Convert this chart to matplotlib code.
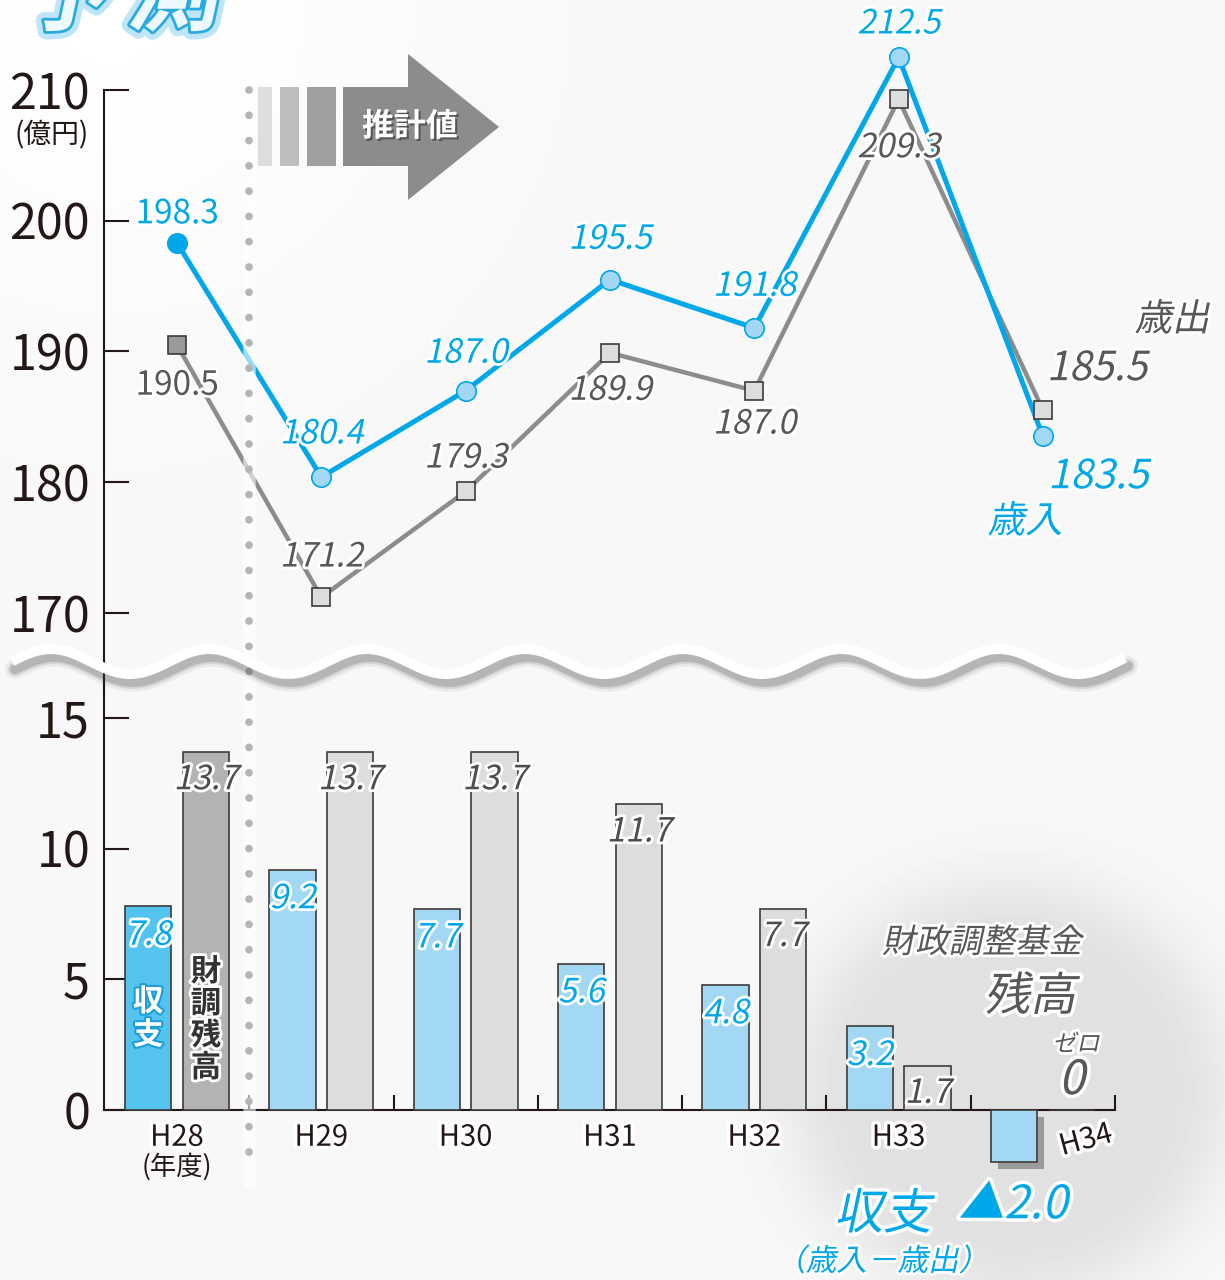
import numpy as np
import matplotlib
matplotlib.use('Agg')
import matplotlib.pyplot as plt
import matplotlib.patheffects as pe
from matplotlib.transforms import Affine2D, blended_transform_factory
from matplotlib.patches import Polygon, Rectangle

plt.rcParams['font.family'] = ['Noto Sans CJK JP', 'DejaVu Sans']

# data
years = ['H28', 'H29', 'H30', 'H31', 'H32', 'H33', 'H34']
revenue = [198.3, 180.4, 187.0, 195.5, 191.8, 212.5, 183.5]      # 歳入
expenditure = [190.5, 171.2, 179.3, 189.9, 187.0, 209.3, 185.5]  # 歳出
balance = [7.8, 9.2, 7.7, 5.6, 4.8, 3.2, -2.0]                  # 収支
fund = [13.7, 13.7, 13.7, 11.7, 7.7, 1.7, 0.0]                  # 財調残高
top_ticks = [170, 180, 190, 200, 210]
bottom_ticks = [0, 5, 10, 15]

# label offsets in points (dx, dy)
rev_offsets = [(0, 21), (0, 31), (0, 27), (0, 29), (0, 30), (0, 24), (40, -29)]
exp_offsets = [(0, -29), (0, 29), (0, 24), (0, -27), (0, -24), (0, -35), (39, 30)]

BLUE = '#00A7E9'
LBLUE = '#A3D8F5'
DBLUE_BAR = '#55C3F0'
GRAY_LINE = '#8C8C8C'
LGRAY = '#DCDDDD'
EDGE = '#3E3A39'
INK = '#231815'
TXT_GRAY = '#595757'

W, H = 1225, 1280


class SlantStroke(pe.Stroke):
    # stroke/fill that shears the glyph path to fake italics
    def __init__(self, deg=12, **kw):
        super().__init__(**kw)
        self.deg = deg

    def draw_path(self, renderer, gc, tpath, affine, rgbFace=None):
        super().draw_path(renderer, gc, tpath,
                          Affine2D().skew_deg(self.deg, 0) + affine, rgbFace)


def slant(lw=0, fg='white', deg=12):
    eff = []
    if lw:
        eff.append(SlantStroke(deg, linewidth=lw, foreground=fg))
    eff.append(SlantStroke(deg))
    return eff


def outline(lw=4, fg='white'):
    return [pe.withStroke(linewidth=lw, foreground=fg)]


fig = plt.figure(figsize=(W / 100, H / 100), dpi=100)
fig.patch.set_facecolor('#F7F7F7')

# background shading
bg = fig.add_axes([0, 0, 1, 1], zorder=-10)
yy, xx = np.mgrid[0:H, 0:W]
img = np.full((H, W), 0.969)
glow = np.exp(-((xx - 110) ** 2 + (yy - 10) ** 2) / (2 * 230 ** 2))
img = img + (1 - img) * glow * 0.9
d = np.sqrt(((xx - 1010) / 215) ** 2 + ((yy - 1090) / 205) ** 2)
disk = 1 / (1 + np.exp((d - 1) / 0.09))
img = img * (1 - disk) + 0.88 * disk
bg.imshow(img, cmap='gray', vmin=0, vmax=1, extent=(0, W, H, 0),
          aspect='auto', interpolation='bilinear')
bg.set_xlim(0, W)
bg.set_ylim(H, 0)
bg.axis('off')

xl = (-0.5058, 7.261)
x = np.arange(len(years))

# ---- top: line chart ----
ax1 = fig.add_axes([104 / W, 1 - 690 / H, 1 - 104 / W, 690 / H], zorder=1)
ax1.patch.set_visible(False)
ax1.set_xlim(*xl)
ax1.set_ylim(164.111, 216.883)
ax1.plot(x, expenditure, color=GRAY_LINE, lw=3.2, zorder=2)
ax1.plot(x, revenue, color=BLUE, lw=3.6, zorder=3)
ax1.plot(x[1:], expenditure[1:], ls='none', marker='s', ms=13, mfc=LGRAY,
         mec=EDGE, mew=1.2, zorder=4)
ax1.plot(x[:1], expenditure[:1], ls='none', marker='s', ms=13, mfc='#9A9A9A',
         mec=EDGE, mew=1.2, zorder=4)
ax1.plot(x[1:], revenue[1:], ls='none', marker='o', ms=14, mfc=LBLUE,
         mec=BLUE, mew=1.2, zorder=5)
ax1.plot(x[:1], revenue[:1], ls='none', marker='o', ms=14, mfc=BLUE,
         mec=BLUE, mew=1.2, zorder=5)

for i, v in enumerate(revenue):
    big = i == len(revenue) - 1
    ax1.annotate(f'{v:.1f}', (i, v), xytext=rev_offsets[i], textcoords='offset points',
                 ha='center', va='center', color=BLUE, fontsize=29 if big else 24,
                 path_effects=outline(4) if i == 0 else slant(4), zorder=6)
for i, v in enumerate(expenditure):
    big = i == len(expenditure) - 1
    ax1.annotate(f'{v:.1f}', (i, v), xytext=exp_offsets[i], textcoords='offset points',
                 ha='center', va='center', color=TXT_GRAY, fontsize=29 if big else 24,
                 path_effects=outline(4) if i == 0 else slant(4), zorder=6)

for s in ['top', 'right', 'bottom']:
    ax1.spines[s].set_visible(False)
ax1.spines['left'].set_bounds(164.111, 210)
ax1.spines['left'].set_color(INK)
ax1.spines['left'].set_linewidth(1.5)
ax1.set_xticks([])
ax1.set_yticks(top_ticks)
ax1.tick_params(axis='y', direction='in', length=18, width=1.5, pad=10,
                labelsize=35, colors=INK)

# ---- bottom: bar chart ----
ax2 = fig.add_axes([104 / W, 0, 1 - 104 / W, 620 / H], zorder=1)
ax2.patch.set_visible(False)
ax2.set_xlim(*xl)
ax2.set_ylim(-6.505, 17.219)
bal_colors = [DBLUE_BAR] + [LBLUE] * (len(balance) - 1)
fund_colors = ['#B3B3B3'] + [LGRAY] * (len(fund) - 1)
bars_b = ax2.bar(x - 0.2, balance, width=0.32, color=bal_colors, edgecolor=EDGE,
                 lw=1.2, zorder=3)
ax2.bar(x + 0.2, fund, width=0.32, color=fund_colors, edgecolor=EDGE, lw=1.2, zorder=3)
bars_b[-1].set_path_effects([pe.SimplePatchShadow(offset=(5, -5), shadow_rgbFace='#333333',
                                                  alpha=0.4), pe.Normal()])

for i, v in enumerate(balance):
    if v > 0:
        ax2.annotate(f'{v:.1f}', (i - 0.2, v), xytext=(0, -21), textcoords='offset points',
                     ha='center', va='center', color=BLUE, fontsize=24,
                     path_effects=slant(4), zorder=6)
for i, v in enumerate(fund):
    if v > 0:
        ax2.annotate(f'{v:.1f}', (i + 0.2, v), xytext=(0, -20), textcoords='offset points',
                     ha='center', va='center', color='#4D4D4D', fontsize=24,
                     path_effects=slant(4), zorder=6)

# H34 fund is zero
ax2.annotate('0', (6.2, fund[-1]), xytext=(0, 21), textcoords='offset points',
             ha='center', va='center', color='#595757', fontsize=34,
             path_effects=slant(5), zorder=6)
ax2.annotate('ゼロ', (6.2, fund[-1]), xytext=(3, 47), textcoords='offset points',
             ha='center', va='center', color='#595757', fontsize=17,
             path_effects=slant(4), zorder=6)

# vertical labels inside first bars
ax2.text(-0.2, 3.5, '収\n支', ha='center', va='center', fontsize=22, fontweight='bold',
         color='white', linespacing=1.05,
         path_effects=[pe.withStroke(linewidth=3, foreground='#1E9ED8')], zorder=6)
ax2.text(0.2, 3.45, '財\n調\n残\n高', ha='center', va='center', fontsize=22,
         fontweight='bold', color='#333333', linespacing=1.0,
         path_effects=outline(4), zorder=6)

for i, lab in enumerate(years[:-1]):
    ax2.annotate(lab, (i, 0), xytext=(0, -20), textcoords='offset points',
                 ha='center', va='center', fontsize=21, color=INK,
                 path_effects=outline(5), zorder=6)
ax2.annotate(years[-1], (6, 0), xytext=(31, -22), textcoords='offset points',
             ha='center', va='center', fontsize=21, color=INK, rotation=15,
             path_effects=outline(5), zorder=6)
ax2.annotate('(年度)', (0, 0), xytext=(0, -41), textcoords='offset points',
             ha='center', va='center', fontsize=19, color=INK, zorder=6)

for s in ['top', 'right']:
    ax2.spines[s].set_visible(False)
ax2.spines['left'].set_bounds(0, 17.219)
ax2.spines['bottom'].set_position(('data', 0))
ax2.spines['bottom'].set_bounds(xl[0], 6.5)
for s in ['left', 'bottom']:
    ax2.spines[s].set_color(INK)
    ax2.spines[s].set_linewidth(1.5)
ax2.set_yticks(bottom_ticks)
ax2.tick_params(axis='y', direction='in', length=18, width=1.5, pad=10,
                labelsize=35, colors=INK)
ax2.set_xticks(np.arange(0.5, len(years), 1.0))
ax2.tick_params(axis='x', direction='in', length=11, width=1.5, labelbottom=False,
                colors=INK)

# ---- overlay decorations (pixel coords) ----
ov = fig.add_axes([0, 0, 1, 1], zorder=5)
ov.patch.set_visible(False)
ov.set_xlim(0, W)
ov.set_ylim(H, 0)
ov.axis('off')

# dotted divider between actual and estimate
blend = blended_transform_factory(ax2.transData, ov.transData)
ov.plot([0.5, 0.5], [82, 1182], transform=blend, color='white', lw=9, alpha=0.6,
        solid_capstyle='round')
ov.plot([0.5, 0.5], [90, 1175], transform=blend, color='#B5B5B5', lw=5.6,
        ls=(0, (0.001, 3.25)), dash_capstyle='round')

# wave break
wx = np.linspace(12, 1125, 600)
wy = 661.5 - 12.5 * np.cos(2 * np.pi * (wx - 51) / 158)
for lw, a in [(14, 0.07), (10, 0.12), (7, 0.2)]:
    ov.plot(wx + 3, wy + 8, color='#3a3a3a', lw=lw, alpha=a, solid_capstyle='round')
ov.plot(wx, wy, color='white', lw=7.2, solid_capstyle='butt')

# estimate arrow
ov.add_patch(Rectangle((258, 87), 14, 79, color='#DCDDDD', lw=0))
ov.add_patch(Rectangle((280, 87), 19, 79, color='#BDBEC0', lw=0))
ov.add_patch(Rectangle((307, 87), 29, 79, color='#A0A0A0', lw=0))
ov.add_patch(Polygon([(343, 87), (408, 87), (408, 54), (499, 127), (408, 200),
                      (408, 166), (343, 166)], closed=True, color='#8C8C8C', lw=0))
ov.text(410, 127, '推計値', ha='center', va='center', fontsize=23, fontweight='bold',
        color='white', path_effects=[pe.withSimplePatchShadow(offset=(1.5, -1.5),
                                                             shadow_rgbFace='#333333',
                                                             alpha=0.6)])

# title fragment
for ch, cx in [('予', 65), ('測', 172)]:
    ov.text(cx, -4, ch, ha='center', va='center', fontsize=66, fontweight='bold',
            color='#EEF9FE',
            path_effects=[SlantStroke(12, linewidth=12, foreground='#BFE6F8'),
                          SlantStroke(12, linewidth=4, foreground='#29ABE2'),
                          SlantStroke(12)])

ov.text(52, 135, '(億円)', ha='center', va='center', fontsize=20, color=INK)

# series names
ov.text(1172, 320, '歳出', ha='center', va='center', fontsize=27, color=TXT_GRAY,
        path_effects=slant(4))
ov.text(1025, 522, '歳入', ha='center', va='center', fontsize=27, color=BLUE,
        path_effects=slant(4))

# bottom-right notes
ov.text(982, 943, '財政調整基金', ha='center', va='center', fontsize=24, color=TXT_GRAY,
        path_effects=slant(4))
ov.text(1030, 997, '残高', ha='center', va='center', fontsize=33, color=TXT_GRAY,
        path_effects=slant(5))
ov.text(883, 1215, '収支', ha='center', va='center', fontsize=35, color=BLUE,
        path_effects=slant(5))
ov.text(1013, 1205, '▲2.0', ha='center', va='center', fontsize=33, color=BLUE,
        path_effects=slant(5))
ov.text(882, 1262, '（歳入－歳出）', ha='center', va='center', fontsize=22, color=BLUE,
        path_effects=slant(4))

fig.savefig('out.png', dpi=100, facecolor=fig.get_facecolor())
